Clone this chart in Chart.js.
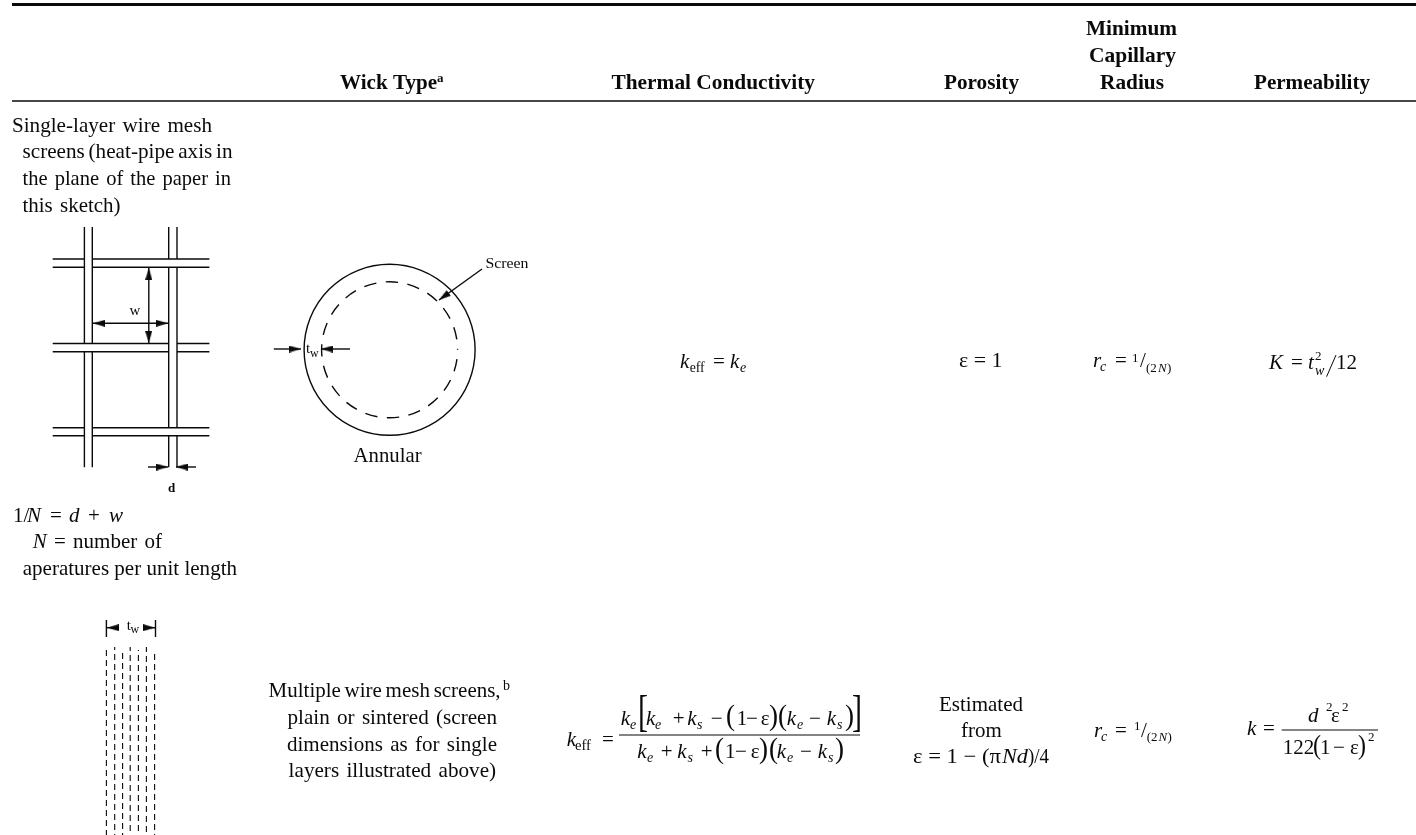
<!DOCTYPE html>
<html><head><meta charset="utf-8">
<style>html,body{margin:0;padding:0;background:#fff}canvas{display:block}</style>
<script src="https://cdn.jsdelivr.net/npm/chart.js@4"></script>
</head><body><canvas id="c" width="1416" height="835"></canvas>
<script>
// ---- content ----
const headerLabels = ['Wick Type','Thermal Conductivity','Porosity','Minimum','Capillary','Radius','Permeability'];
const singleLayerLines = ['Single-layer wire mesh','screens (heat-pipe axis in','the plane of the paper in','this sketch)'];
const apertureLines = ['number of','aperatures per unit length'];
const multiLayerLines = ['Multiple wire mesh screens,','plain or sintered (screen','dimensions as for single','layers illustrated above)'];
const porosityLines = ['ε = 1','Estimated','from','ε = 1 − (π','Nd',')/4'];
const sketchLabels = ['Screen','Annular','w','d','t','w'];
// ---- sketch geometry (page coordinates of the drawing) ----
const ruleLines = [[12,4.5,1416,4.5,3],[12,101,1416,101,1.4],[619,735,860,735,1.2],[1281.7,730,1378,730,1.2],[1336,355,1326.6,376.7,1]];
const meshVerticalSegments = [[84.4,227,84.4,467.3],[92.3,227,92.3,467.3]].flatMap(([x,a,,b])=>[[x,a,x,343.5],[x,351.7,x,b]])
  .concat([168.7,177].flatMap(x=>[[x,227,x,259],[x,267.3,x,427.7],[x,435.7,x,467.3]]));
const meshHorizontalSegments = [259,267.3,427.7,435.7].flatMap(y=>[[52.7,y,84.4,y],[92.3,y,209.4,y]])
  .concat([343.5,351.7].flatMap(y=>[[52.7,y,168.7,y],[177,y,209.4,y]]));
const dashedScreenX = [106.4,114.7,122.6,130.2,138.4,146.4,154.6];
const dashedScreenTop = [650,647,650,647,650,647,650];
const dashOffsets = [0,3,7,2,5,1,6];
const dimensionBars = [[106.4,620,106.4,637],[155.5,620,155.5,637]];
const arrows = [[148.8,305,148.8,268],[148.8,305,148.8,343],[130,323.3,93,323.3],[130,323.3,168,323.3],
  [148,467,168,467],[196,467,176,467],[482,269,439,300],[273.8,349,301,349],[350,349,321,349],
  [118.8,627.7,107,627.7],[144,627.7,155,627.7]];
const annulusCenter = {x:389.6,y:349.8};
const annulusOuterRadius = 85.5;
const annulusInnerRadius = 68;

const styles = {
  r:'21px "Liberation Serif"', i:'italic 21px "Liberation Serif"', b:'bold 22px "Liberation Serif"',
  sub:'italic 14px "Liberation Serif"', subr:'14px "Liberation Serif"', sup:'13px "Liberation Serif"',
  supb:'bold 13px "Liberation Serif"', p:'30px "Liberation Serif"', p2:'28px "Liberation Serif"',
  br:'44px "Liberation Serif"', s:'14px "Liberation Serif"', sb:'bold 13px "Liberation Serif"', a:'21px "Liberation Serif"',
  n:'15px "Liberation Serif"', c:'12px "Liberation Serif"', ni:'italic 13px "Liberation Serif"'
};
// text, left x, baseline y, style, optional fitted width, optional word spacing
const texts = [
  [headerLabels[0],340,89,'b',97],['a',437,82,'supb'],
  [headerLabels[1],611.5,89,'b',203.5],[headerLabels[2],944,89,'b',75],[headerLabels[3],1086,35,'b',91],
  [headerLabels[4],1089,62,'b',87],[headerLabels[5],1100,89,'b',64],[headerLabels[6],1254,89,'b',116],
  [singleLayerLines[0],12,132,'r',200,2],[singleLayerLines[1],22.5,158,'r',210,-1.5],[singleLayerLines[2],22.5,185,'r',208.5,2],[singleLayerLines[3],22.5,212,'r',98,2],
  ['1/',13,522.3,'r'],['N',27,522.3,'i'],['=',50,522.3,'r'],['d',69,522.3,'i'],['+',88,522.3,'r'],['w',109,522.3,'i'],
  ['N',32.7,548.3,'i'],['=',54,548.3,'r'],[apertureLines[0],73,548.3,'r',89,2],[apertureLines[1],22.7,575,'r',214.3],
  [multiLayerLines[0],268.6,697,'r',232,-1.5],['b',503,690,'s'],[multiLayerLines[1],287.5,724,'r',209.5,2],[multiLayerLines[2],287,751,'r',210,2],[multiLayerLines[3],288.6,777,'r',207.5,2],
  [sketchLabels[0],485.5,268.3,'s',43],[sketchLabels[1],353.6,461.7,'a',68],[sketchLabels[2],129.5,315,'n'],[sketchLabels[3],168,491.7,'sb'],
  [sketchLabels[4],306,353,'n'],[sketchLabels[5],310,356.7,'c'],[sketchLabels[4],126.7,630,'n'],[sketchLabels[5],130.6,633,'c'],
  // first row formulas
  ['k',680,368,'i'],['eff',689.7,372,'subr',15],['=',713,368,'r'],['k',730,368,'i'],['e',740,372,'sub'],
  [porosityLines[0],959,367,'r',43.6],
  ['r',1093,367.3,'i'],['c',1100,371,'sub'],['=',1115,367.3,'r'],['1',1132,361.7,'sup'],['/',1140,367.3,'r'],['(2',1146,371.7,'sup'],['N',1158,371.7,'ni'],[')',1167,371.7,'sup'],
  ['K',1269,369,'i'],['=',1291,369,'r'],['t',1308,369,'i'],['2',1315,360,'sup'],['w',1315,375,'sub'],['12',1336,369,'r'],
  // second row, thermal conductivity
  ['k',566.7,745.7,'i'],['eff',575,749.5,'subr',16],['=',602,745.7,'r'],
  ['k',620.7,725,'i'],['e',630,729,'sub'],['[',638,726,'br',10],['k',646,725,'i'],['e',655,729,'sub'],['+',672.7,725,'r'],['k',687.3,725,'i'],['s',697,729,'sub'],['−',710.7,725,'r'],
  ['(',726,725,'p',9],['1',736.7,725,'r'],['−',746,725,'r'],['ε',760.7,725,'r'],[')',769,725,'p',9],['(',778,725,'p',9],['k',786.7,725,'i'],['e',797,729,'sub'],['−',809,725,'r'],['k',826.7,725,'i'],['s',837,729,'sub'],[')',845,725,'p',9],[']',852,726,'br',10],
  ['k',637.3,758,'i'],['e',647,762,'sub'],['+',660.7,758,'r'],['k',677.3,758,'i'],['s',687.5,762,'sub'],['+',700.7,758,'r'],
  ['(',715,758,'p',9],['1',725,758,'r'],['−',735,758,'r'],['ε',750.7,758,'r'],[')',759,758,'p',9],['(',769,758,'p',9],['k',776.7,758,'i'],['e',787,762,'sub'],['−',800,758,'r'],['k',817.7,758,'i'],['s',828,762,'sub'],[')',835,758,'p',9],
  // second row, porosity
  [porosityLines[1],939,710.7,'r',84],[porosityLines[2],961,736.7,'r',40.7],[porosityLines[3],913,763,'r',88],[porosityLines[4],1002,763,'i',26],[porosityLines[5],1028,763,'r',21],
  // second row, radius
  ['r',1094,736.7,'i'],['c',1101,740.5,'sub'],['=',1115,736.7,'r'],['1',1134,730,'sup'],['/',1141,736.7,'r'],['(2',1146.7,740.7,'sup'],['N',1158.5,740.7,'ni'],[')',1167.5,740.7,'sup'],
  // second row, permeability
  ['k',1247,735,'i'],['=',1263,735,'r'],['d',1308,722,'i'],['2',1326,711,'sup'],['ε',1331,722,'r'],['2',1342,711,'sup'],
  ['122',1282.7,754,'r'],['(',1313,754,'p2',8],['1',1320,754,'r'],['−',1333,754,'r'],['ε',1350,754,'r'],[')',1358,754,'p2',8],['2',1368,741,'sup']
];

const INK = '#0a0a0a';
const lineSet = (x1,y1,x2,y2,w,extra={}) => Object.assign({type:'scatter',showLine:true,data:[{x:x1,y:y1},{x:x2,y:y2}],
  borderColor:INK,borderWidth:w,pointRadius:0,fill:false},extra);

// slim arrow head used as the point marker
const head = document.createElement('canvas'); head.width=7; head.height=12;
{const g=head.getContext('2d');g.fillStyle=INK;g.beginPath();g.moveTo(3.5,0);g.lineTo(7,12);g.lineTo(0,12);g.closePath();g.fill();}

const datasets = [];
ruleLines.forEach(([a,b,c,d,w])=>datasets.push(lineSet(a,b,c,d,w)));
meshVerticalSegments.concat(meshHorizontalSegments).forEach(([a,b,c,d])=>datasets.push(lineSet(a,b,c,d,1.4)));
dimensionBars.forEach(([a,b,c,d])=>datasets.push(lineSet(a,b,c,d,1.4)));
dashedScreenX.forEach((x,i)=>datasets.push(lineSet(x,dashedScreenTop[i],x,835,1.1,{borderDash:[6,4],borderDashOffset:dashOffsets[i]})));
arrows.forEach(([a,b,c,d])=>datasets.push(lineSet(a,b,c,d,1.4)));
const tips = arrows.map(([a,b,c,d])=>{const l=Math.hypot(c-a,d-b);return {x:c-6*(c-a)/l,y:d-6*(d-b)/l};});
const tipAngles = arrows.map(([a,b,c,d])=>Math.atan2(d-b,c-a)*180/Math.PI+90);
datasets.push({type:'scatter',data:tips,pointStyle:head,pointRadius:6,pointRotation:tipAngles,showLine:false});
datasets.push({type:'bubble',data:[{x:annulusCenter.x,y:annulusCenter.y,r:annulusOuterRadius}],backgroundColor:'transparent',borderColor:INK,borderWidth:1.4});
datasets.push({type:'bubble',ringDash:[12.5,9.4],ringDashOffset:12.5,data:[{x:annulusCenter.x,y:annulusCenter.y,r:annulusInnerRadius}],backgroundColor:'transparent',borderColor:INK,borderWidth:1.4});

const tablePlugin = {
  id:'tablePlugin',
  beforeDatasetDraw(chart,args){const d=chart.data.datasets[args.index];if(d.ringDash){chart.ctx.save();chart.ctx.setLineDash(d.ringDash);chart.ctx.lineDashOffset=d.ringDashOffset;}},
  afterDatasetDraw(chart,args){const d=chart.data.datasets[args.index];if(d.ringDash){chart.ctx.restore();}},
  afterDraw(chart){
    const {ctx,scales:{x,y}}=chart;
    ctx.save();ctx.fillStyle=INK;ctx.textBaseline='alphabetic';ctx.textAlign='left';
    texts.forEach(([t,px,py,st,w,ws])=>{
      ctx.save();ctx.font=styles[st];ctx.wordSpacing=(ws||0)+'px';ctx.translate(x.getPixelForValue(px),y.getPixelForValue(py));
      if(w){ctx.scale(w/ctx.measureText(t).width,1);}
      ctx.fillText(t,0,0);ctx.restore();
    });
    ctx.restore();
  }
};

new Chart(document.getElementById('c'),{
  type:'scatter',
  data:{datasets},
  plugins:[tablePlugin],
  options:{
    responsive:false,animation:false,devicePixelRatio:1,
    layout:{padding:0,autoPadding:false},
    plugins:{legend:{display:false},tooltip:{enabled:false}},
    scales:{x:{type:'linear',min:0,max:1416,display:false},y:{type:'linear',min:0,max:835,reverse:true,display:false}}
  }
});
</script></body></html>
